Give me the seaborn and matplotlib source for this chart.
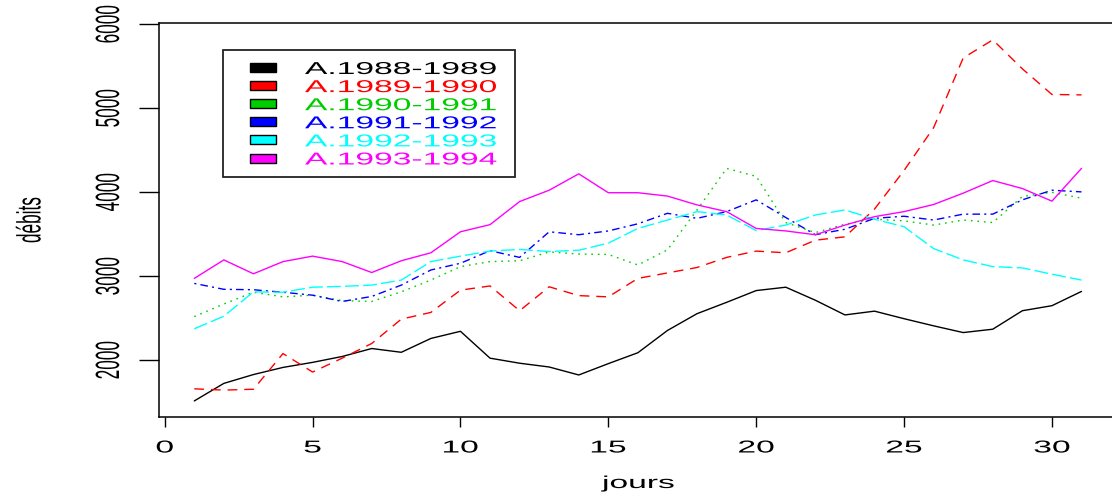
import matplotlib
matplotlib.use("Agg")
import matplotlib.pyplot as plt
import numpy as np
import pandas as pd
import seaborn as sns
from matplotlib.patheffects import AbstractPathEffect
from matplotlib.transforms import Affine2D
from matplotlib.patches import Rectangle

# Daily discharge for each hydrological year
jours = list(range(1, 32))
a1988_1989 = [1516, 1725, 1830, 1915, 1975, 2045, 2140, 2095, 2260, 2345, 2025, 1965, 1920, 1825, 1960, 2090,
              2355, 2555, 2690, 2830, 2870, 2715, 2540, 2585, 2495, 2410, 2330, 2370, 2590, 2650, 2820]
a1989_1990 = [1660, 1645, 1655, 2080, 1860, 2025, 2200, 2490, 2570, 2835, 2885, 2590, 2875, 2770, 2755, 2975,
              3040, 3105, 3225, 3300, 3280, 3430, 3470, 3800, 4260, 4770, 5600, 5815, 5470, 5165, 5160]
a1990_1991 = [2520, 2670, 2810, 2755, 2775, 2710, 2700, 2815, 2955, 3115, 3175, 3185, 3290, 3265, 3260, 3135,
              3315, 3790, 4285, 4190, 3640, 3520, 3620, 3680, 3660, 3610, 3670, 3640, 3950, 4000, 3930]
a1991_1992 = [2915, 2845, 2840, 2810, 2775, 2700, 2760, 2895, 3075, 3155, 3305, 3225, 3530, 3495, 3540, 3625,
              3750, 3690, 3770, 3910, 3700, 3495, 3560, 3690, 3715, 3670, 3740, 3740, 3910, 4025, 4005]
a1992_1993 = [2375, 2525, 2815, 2810, 2870, 2880, 2895, 2955, 3175, 3240, 3300, 3320, 3295, 3310, 3395, 3570,
              3670, 3770, 3730, 3545, 3610, 3730, 3790, 3680, 3590, 3330, 3195, 3115, 3100, 3025, 2955]
a1993_1994 = [2975, 3195, 3030, 3175, 3240, 3175, 3045, 3185, 3280, 3530, 3615, 3890, 4025, 4220, 3995, 3995,
              3955, 3850, 3770, 3570, 3540, 3495, 3610, 3710, 3770, 3855, 3990, 4140, 4045, 3895, 4285]

annees = ["A.1988-1989", "A.1989-1990", "A.1990-1991", "A.1991-1992", "A.1992-1993", "A.1993-1994"]
series = [a1988_1989, a1989_1990, a1990_1991, a1991_1992, a1992_1993, a1993_1994]
couleurs = ["#000000", "#FF0000", "#00CD00", "#0000FF", "#00FFFF", "#FF00FF"]
tirets = ["", (7, 5), (1.2, 3.5), (1.5, 3, 5.5, 3), (10, 3), ""]

df = pd.DataFrame({
    "jours": np.tile(jours, len(annees)),
    "débits": np.concatenate(series),
    "année": np.repeat(annees, len(jours)),
})

sns.set_theme(style="white")
plt.rcParams["font.family"] = ["Liberation Sans", "DejaVu Sans"]
plt.rcParams["text.color"] = "black"
plt.rcParams["axes.labelcolor"] = "black"
plt.rcParams["xtick.color"] = "black"
plt.rcParams["ytick.color"] = "black"


class Stretch(AbstractPathEffect):
    """Widen glyphs horizontally around a chosen edge of the drawn text."""

    def __init__(self, factor, anchor="center"):
        super().__init__()
        self.factor = factor
        self.anchor = anchor

    def draw_path(self, renderer, gc, tpath, affine, rgbFace=None):
        ext = tpath.get_extents(affine)
        if self.anchor == "left":
            x0 = ext.x0
        elif self.anchor == "right":
            x0 = ext.x1
        else:
            x0 = 0.5 * (ext.x0 + ext.x1)
        wide = Affine2D().translate(-x0, 0).scale(self.factor, 1).translate(x0, 0)
        renderer.draw_path(gc, tpath, affine + wide, rgbFace)


W, H = 1112, 498
FS = 12.4
WIDE = 1.95


def px(x, y):
    """Pixel position (origin top-left) to inches for fig.dpi_scale_trans."""
    return x / 100, (H - y) / 100


fig = plt.figure(figsize=(W / 100, H / 100), dpi=100)
fig.patch.set_facecolor("white")
ax = fig.add_axes([158.8 / W, 80.7 / H, (1117 - 158.8) / W, (474.5 - 80.7) / H])

sns.lineplot(
    data=df, x="jours", y="débits", hue="année", style="année",
    palette=dict(zip(annees, couleurs)), dashes=dict(zip(annees, tirets)),
    linewidth=1.0, estimator=None, legend=False, ax=ax,
)

ax.set_xlim(-0.2, 32.2)
ax.set_ylim(1321, 6010)
ax.set_xticks(range(0, 31, 5))
ax.set_yticks(range(2000, 6001, 1000))
for s in ax.spines.values():
    s.set_color("black")
    s.set_linewidth(1.1)

ax.tick_params(axis="x", direction="out", length=7.2, width=1.0, pad=9.5, labelsize=FS, bottom=True)
ax.tick_params(axis="y", direction="out", length=14.4, width=1.0, pad=12.0, labelsize=FS, left=True)
for t in ax.get_xticklabels():
    t.set_path_effects([Stretch(WIDE, "center")])
for t in ax.get_yticklabels():
    t.set_rotation(90)
    t.set_verticalalignment("center")
    t.set_path_effects([Stretch(WIDE, "right")])

ax.set_xlabel("jours", fontsize=FS)
ax.set_ylabel("débits", fontsize=FS)
ax.xaxis.set_label_coords(*px(638, 476), transform=fig.dpi_scale_trans)
ax.yaxis.set_label_coords(*px(43.6, 220), transform=fig.dpi_scale_trans)
ax.xaxis.label.set_path_effects([Stretch(WIDE, "center")])
ax.yaxis.label.set_path_effects([Stretch(WIDE, "right")])

# Legend box with coloured keys and coloured labels
tr = fig.dpi_scale_trans
x0, y_top, x1, y_bot = 222.7, 49.5, 515.0, 176.7
fig.add_artist(Rectangle(px(x0, y_bot), (x1 - x0) / 100, (y_bot - y_top) / 100, transform=tr,
                         facecolor="white", edgecolor="#222222", linewidth=1.3, zorder=5))
for i, (lab, col) in enumerate(zip(annees, couleurs)):
    yc = 67.5 + 18.1 * i
    fig.add_artist(Rectangle(px(250, yc + 4.5), 26 / 100, 9 / 100, transform=tr,
                             facecolor=col, edgecolor="black", linewidth=1.0, zorder=6))
    txt = fig.text(*px(305, yc + 6.5), lab, transform=tr, color=col, fontsize=FS,
                   ha="left", va="baseline", zorder=6)
    txt.set_path_effects([Stretch(WIDE, "left")])

fig.savefig("out.png", dpi=100, facecolor="white")
